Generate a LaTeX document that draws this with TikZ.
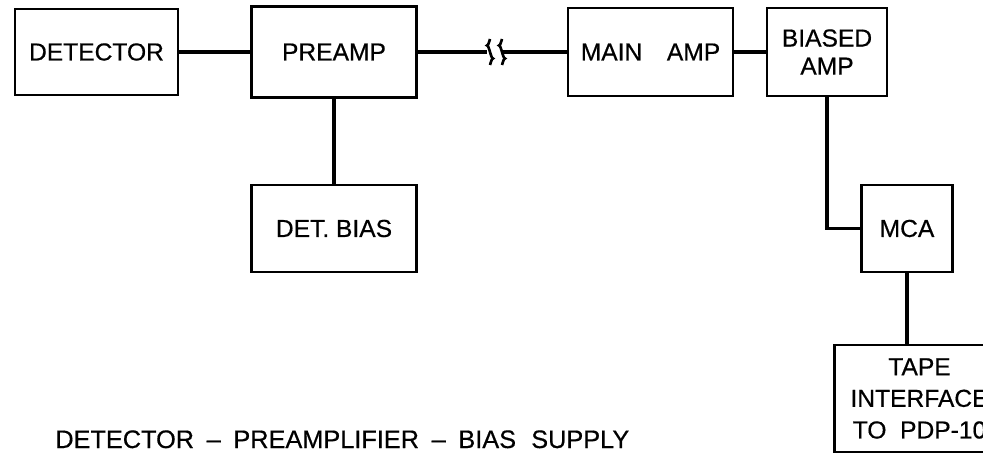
\documentclass[tikz,border=0pt]{standalone}
\usepackage{fontspec}
\setsansfont{Liberation Sans}[FakeBold=0.5]
\usetikzlibrary{positioning}
\tikzstyle{unit} = [rectangle, draw=black, line width=1.4pt, text centered, align=center, font=\sffamily\fontsize{14}{17}\selectfont]
\tikzstyle{wire} = [line width=1.9pt]
\tikzstyle{kink} = [line width=1.5pt]

\begin{document}
\begin{tikzpicture}[node distance=2cm]
	\useasboundingbox (0,0) rectangle (19.66,-9.10);
	\clip (0,0) rectangle (19.66,-9.10);
	\node (det) [unit, minimum width=3.26cm, minimum height=1.72cm] at (1.93,-1.04) {DETECTOR};
	\node (pre) [unit, right of=det, xshift=2.75cm, minimum width=3.3cm, minimum height=1.82cm] {PREAMP};
	\node (main) [unit, right of=pre, xshift=4.33cm, minimum width=3.3cm, minimum height=1.76cm] {MAIN\hspace{1em}AMP};
	\node (bamp) [unit, right of=main, xshift=1.53cm, minimum width=2.4cm, minimum height=1.76cm] {BIASED\\[-1pt]AMP};
	\node (bias) [unit, below of=pre, yshift=-1.53cm, minimum width=3.3cm, minimum height=1.74cm] {DET. BIAS};
	\node (mca) [unit, below of=bamp, xshift=1.6cm, yshift=-1.53cm, minimum width=1.82cm, minimum height=1.74cm] {MCA};
	\node (tape) [unit, below of=mca, xshift=0.25cm, yshift=-1.4cm, minimum width=3.4cm, minimum height=2.14cm] {TAPE\\[1pt]INTERFACE\\[1pt]TO\ \ PDP-10};
	% cable break between preamp and main amp
	\coordinate (brk1) at (9.74,-1.04);
	\coordinate (brk2) at (10.06,-1.04);
	\draw [wire] (det) -- (pre);
	\draw [wire] (pre) -- (brk1);
	\draw [kink] (9.80,-0.78) sin (9.74,-0.91) cos (9.80,-1.04) sin (9.86,-1.17) cos (9.80,-1.30);
	\draw [kink] (10.04,-0.78) sin (9.98,-0.91) cos (10.04,-1.04) sin (10.10,-1.17) cos (10.04,-1.30);
	\draw [wire] (brk2) -- (main);
	\draw [wire] (main) -- (bamp);
	\draw [wire] (pre) -- (bias);
	\draw [wire] (bamp.south) |- (mca.west);
	\draw [wire] (mca.south) -- (mca.south |- tape.north);
	\node (cap) [anchor=base west, inner sep=0pt, font=\sffamily\fontsize{14.4}{17}\selectfont] at (1.1,-8.96)
		{DETECTOR\hspace{0.5em}--\hspace{0.5em}PREAMPLIFIER\hspace{0.5em}--\hspace{0.5em}BIAS\hspace{0.6em}SUPPLY};
\end{tikzpicture}
\end{document}
